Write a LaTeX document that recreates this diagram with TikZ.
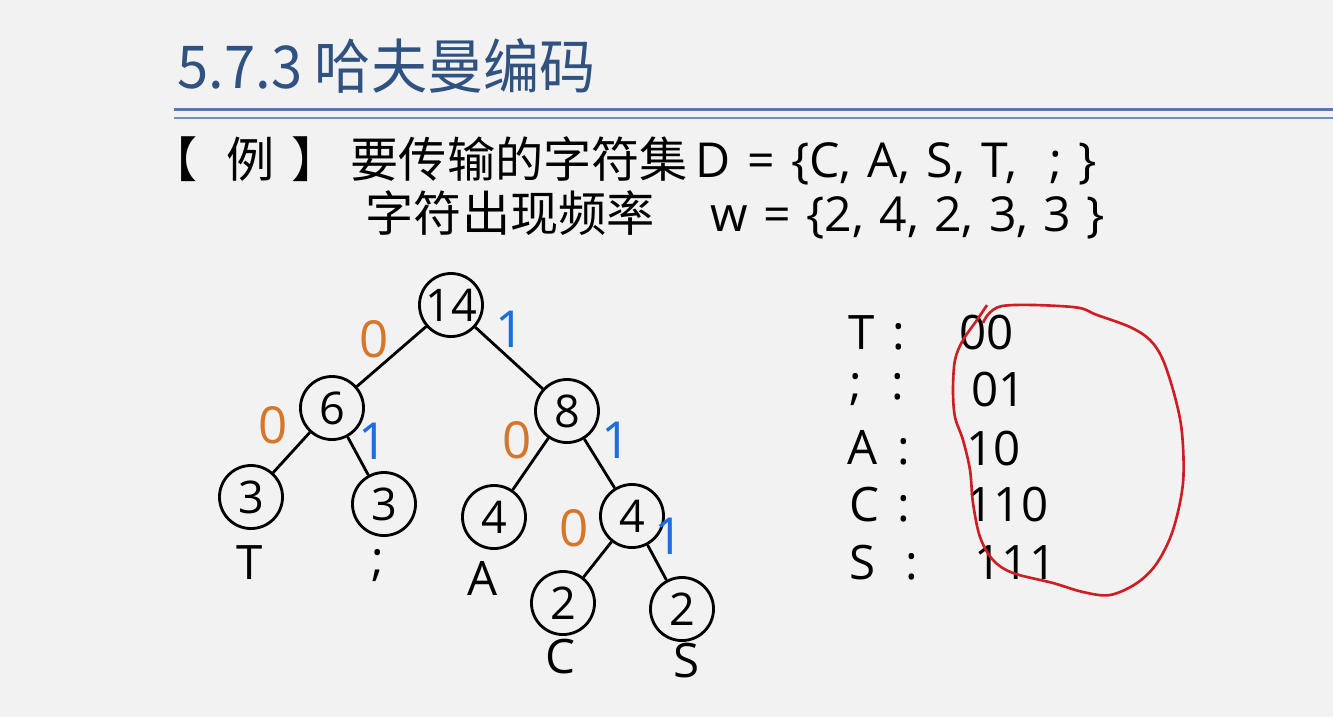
\documentclass[tikz,border=0pt]{standalone}
\usepackage{fontspec}
\setmainfont{Open Sans}
\newfontfamily\cjk{Noto Sans CJK SC}
\usetikzlibrary{positioning}
\definecolor{bgcol}{RGB}{242,242,242}
\definecolor{titleblue}{RGB}{47,82,128}
\definecolor{rulecol}{RGB}{88,122,170}
\definecolor{zeroor}{RGB}{214,118,40}
\definecolor{oneblue}{RGB}{28,110,222}
\definecolor{penred}{RGB}{205,30,35}
\tikzset{
        wnode/.style = {draw, circle, minimum size=0.63cm, inner sep=0pt,
            line width=0.8pt, font=\fontsize{12.8}{13}\selectfont},
        leaf/.style = {inner sep=0pt, font=\fontsize{13.5}{14}\selectfont},
        bitzero/.style = {inner sep=0pt, text=zeroor, font=\fontsize{14.5}{15}\selectfont},
        bitone/.style = {inner sep=0pt, text=oneblue, font=\fontsize{14.5}{15}\selectfont},
        branch/.style = {draw, line width=0.8pt},
        txt/.style = {inner sep=0pt, anchor=base west, font=\fontsize{13.7}{16}\selectfont},
        code/.style = {inner sep=0pt, anchor=west, font=\fontsize{13.5}{16}\selectfont},
    }
\newcommand{\keyrow}[2]{\makebox[#1][l]{#2}:}

\begin{document}
\begin{tikzpicture}[x=0.01cm, y=-0.01cm]
    \useasboundingbox (0,0) rectangle (1333,717);
    \fill[bgcol] (0,0) rectangle (1333,717);

    % title and rules
    \node[txt, text=titleblue, font=\fontsize{16.8}{18}\cjk] (title) at (177,88)
        {\scalebox{0.95}[1]{5.7.3 哈夫曼编码}};
    \draw[rulecol, line width=0.85pt] (174,109) -- (1333,109);
    \draw[rulecol!85, line width=0.45pt] (174,118) -- (1333,118);

    % the example
    \node[txt, font=\fontsize{13.7}{16}\cjk] (ex) at (149,177) {【\hspace{0.6em}例\hspace{0.35em}】};
    \node[txt, font=\fontsize{13.7}{16}\cjk] (set) at (350,177) {要传输的字符集};
    \node[txt] (setD) at (695,177) {\spaceskip=0.34em D = \{C, A, S, T, \ ; \}};
    \node[txt, font=\fontsize{13.7}{16}\cjk] (freq) at (365,231) {字符出现频率};
    \node[txt] (freqw) at (710,231) {\spaceskip=0.32em w = \{2, 4, 2, 3, 3 \}};

    % huffman tree
    \node[wnode] (n14) at (451,305) {14};
    \node[wnode] (n6) at (332,408) {6};
    \node[wnode] (n8) at (567,411) {8};
    \node[wnode] (n3a) at (251,497) {3};
    \node[wnode] (n3b) at (384,504) {3};
    \node[wnode] (n4a) at (494,517) {4};
    \node[wnode] (n4b) at (632,516) {4};
    \node[wnode] (n2a) at (563,603) {2};
    \node[wnode] (n2b) at (682,609) {2};

    \draw[branch] (n14) -- (n6);
    \draw[branch] (n14) -- (n8);
    \draw[branch] (n6) -- (n3a);
    \draw[branch] (n6) -- (n3b);
    \draw[branch] (n8) -- (n4a);
    \draw[branch] (n8) -- (n4b);
    \draw[branch] (n4b) -- (n2a);
    \draw[branch] (n4b) -- (n2b);

    \node[bitzero] (b0a) at (374,339) {0};
    \node[bitone] (b1a) at (510,329) {1};
    \node[bitzero] (b0b) at (273,425) {0};
    \node[bitone] (b1b) at (373,441) {1};
    \node[bitzero] (b0c) at (517,440) {0};
    \node[bitone] (b1c) at (616,440) {1};
    \node[bitzero] (b0d) at (574,528) {0};
    \node[bitone] (b1d) at (669,536) {1};

    \node[leaf] (lT) at (250,563) {T};
    \node[leaf] (lsemi) at (378,566) {;};
    \node[leaf] (lA) at (483,578) {A};
    \node[leaf] (lC) at (560,657) {C};
    \node[leaf] (lS) at (687,661) {S};

    % codes
    \node[code] (kT) at (848,333) {\keyrow{0.44cm}{T}};
    \node[code] (ksemi) at (849,390) {\keyrow{0.42cm}{;}};
    \node[code] (kA) at (847,448) {\keyrow{0.50cm}{A}};
    \node[code] (kC) at (849,505) {\keyrow{0.48cm}{C}};
    \node[code] (kS) at (849,563) {\keyrow{0.56cm}{S}};
    \node[code] (cT) at (959,333) {00};
    \node[code] (csemi) at (971,390) {01};
    \node[code] (cA) at (966,448) {10};
    \node[code] (cC) at (966,505) {110};
    \node[code] (cS) at (974,563) {111};

    % pen mark
    \draw[penred, line width=0.75pt, line join=round] plot[smooth, tension=0.55] coordinates {
        (987,305) (977,320) (963,340) (955,360) (953,390) (955,417) (963,440)
        (970,470) (973,503) (980,537) (993,560) (1013,573) (1053,583)
        (1083,592) (1110,595) (1137,583) (1157,563) (1173,530) (1183,483)
        (1182,433) (1175,397) (1163,360) (1150,340) (1130,327) (1097,315)
        (1073,307) (1002,306) (983,323)};
\end{tikzpicture}
\end{document}
